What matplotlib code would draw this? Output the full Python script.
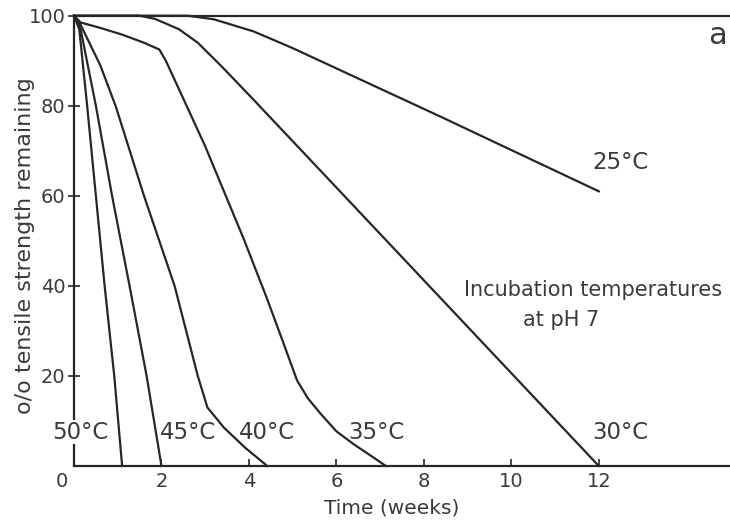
import matplotlib
matplotlib.use("Agg")
import matplotlib.pyplot as plt

# Time in weeks, % tensile strength remaining
weeks_50 = [0, 0.12, 0.3, 0.5, 0.7, 0.92, 1.1]
vals_50 = [100, 97, 80, 60, 40, 20, 0]

weeks_45 = [0, 0.15, 0.5, 0.87, 1.27, 1.66, 2.0]
vals_45 = [100, 97, 80, 60, 40, 20, 0]

weeks_40 = [0, 0.15, 0.6, 0.95, 1.6, 2.3, 2.83, 3.05, 3.43, 3.92, 4.42]
vals_40 = [100, 98, 89, 80, 60, 40, 20, 13, 8.5, 4, 0]

weeks_35 = [0, 0.15, 0.6, 1.1, 1.6, 1.95, 2.1, 3.0, 3.89, 4.4, 4.8, 5.1,
            5.35, 5.63, 6.0, 6.4, 6.8, 7.13]
vals_35 = [100, 98.5, 97.3, 95.8, 94, 92.5, 90, 71, 50.2, 37.5, 27, 19,
           15, 11.7, 7.7, 4.8, 2.2, 0]

weeks_30 = [0, 1.5, 1.85, 2.4, 2.83, 3.4, 4.11, 7.13, 12]
vals_30 = [100, 100, 99.3, 97, 94, 88.5, 81.3, 50.2, 0]

weeks_25 = [0, 2.6, 3.2, 4.11, 5.0, 8.4, 9.49, 12]
vals_25 = [100, 100, 99.2, 96.5, 92.8, 77.5, 72.5, 61]

series = [
    (weeks_50, vals_50), (weeks_45, vals_45), (weeks_40, vals_40),
    (weeks_35, vals_35), (weeks_30, vals_30), (weeks_25, vals_25),
]

# curve labels: text, x, y (data coords)
labels = [
    ("50°C", -0.50, 7.5), ("45°C", 1.97, 7.5), ("40°C", 3.76, 7.5),
    ("35°C", 6.28, 7.5), ("30°C", 11.86, 7.5), ("25°C", 11.86, 67.3),
]

x_ticks = [2, 4, 6, 8, 10, 12]
y_ticks = [20, 40, 60, 80, 100]

INK = "#262626"
TXT = "#3a3a3a"

plt.rcParams["font.family"] = ["DejaVu Sans"]

fig = plt.figure(figsize=(7.30, 5.24), dpi=100)
ax = fig.add_axes([0.1014, 0.1107, 0.8986, 0.8593])

for w, v in series:
    ax.plot(w, v, color=INK, lw=1.6, solid_joinstyle="round", clip_on=False)

ax.set_xlim(0, 15.0)
ax.set_ylim(0, 100)

for side in ("left", "bottom", "top"):
    ax.spines[side].set_color(INK)
    ax.spines[side].set_linewidth(1.6)
ax.spines["right"].set_visible(False)

ax.set_xticks(x_ticks)
ax.set_yticks(y_ticks)
ax.tick_params(axis="x", direction="in", length=5, width=1.2, color=INK,
               labelsize=14, labelcolor=TXT, pad=4)
ax.tick_params(axis="y", direction="inout", length=8, width=1.2, color=INK,
               labelsize=14, labelcolor=TXT, pad=2)
ax.tick_params(top=False, right=False)

# origin label sits left of the corner
ax.annotate("0", xy=(0, 0), xytext=(-9, -11.5), textcoords="offset points",
            ha="center", va="center", fontsize=14, color=TXT)

ax.set_xlabel("Time (weeks)", fontsize=14.5, color=TXT)
ax.xaxis.set_label_coords(0.485, -0.073)
ax.set_ylabel("o/o tensile strength remaining", fontsize=16, color=TXT)
ax.yaxis.set_label_coords(-0.06, 0.49)

for text, x, y in labels:
    box = None
    if x < 0:
        # this one sits over the y axis and hides it, as in the original
        box = dict(facecolor="white", edgecolor="none", pad=0.5)
    ax.text(x, y, text, fontsize=16.5, color=TXT, ha="left", va="center",
            clip_on=False, bbox=box)

ax.text(8.91, 39.1, "Incubation temperatures", fontsize=15, color=TXT,
        ha="left", va="center")
ax.text(10.26, 32.4, "at pH 7", fontsize=15, color=TXT, ha="left", va="center")
ax.text(14.5, 95.7, "a", fontsize=22, color=TXT, ha="left", va="center")

fig.savefig("out.png", dpi=100, facecolor="white")
